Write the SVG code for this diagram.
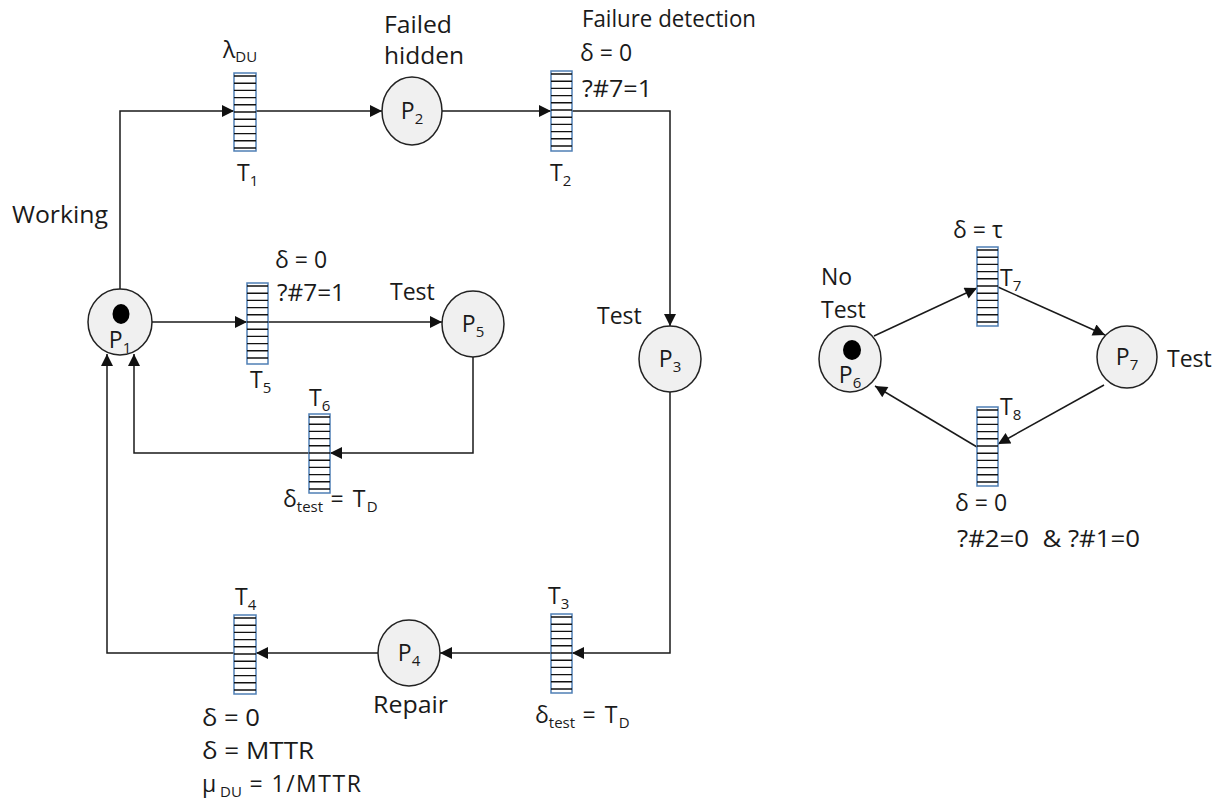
<svg xmlns="http://www.w3.org/2000/svg" width="1225" height="805" viewBox="0 0 1225 805">
<defs>
<marker id="arr" viewBox="0 0 10 10" refX="10" refY="5" markerWidth="15" markerHeight="12" orient="auto" markerUnits="userSpaceOnUse">
<path d="M0,0 L10,5 L0,10 z" fill="#111"/>
</marker>
</defs>
<style>
text{font-family:"Open Sans","Liberation Sans",sans-serif;font-size:23px;fill:#1a1a1a;white-space:pre}
.sub{font-size:15px}
.wide{letter-spacing:1.5px}
.place{fill:#f0f0f0;stroke:#222;stroke-width:1.5}
.tok{fill:#000}
.trans{fill:#fff;stroke:#4f7fb5;stroke-width:1.5}
.st{stroke:#111;stroke-width:1.4}
.conn{fill:none;stroke:#1a1a1a;stroke-width:1.5}
</style>
<rect width="1225" height="805" fill="#fff"/>

<g id="connectors">
<path class="conn" d="M120,289 V111 H234" marker-end="url(#arr)"/>
<path class="conn" d="M256,111 H382" marker-end="url(#arr)"/>
<path class="conn" d="M442,111 H551" marker-end="url(#arr)"/>
<path class="conn" d="M572,111 H670 V326" marker-end="url(#arr)"/>
<path class="conn" d="M670,392 V653 H572" marker-end="url(#arr)"/>
<path class="conn" d="M551,653 H440" marker-end="url(#arr)"/>
<path class="conn" d="M378,653 H256" marker-end="url(#arr)"/>
<path class="conn" d="M234,653 H107 V354" marker-end="url(#arr)"/>
<path class="conn" d="M152,322 H247" marker-end="url(#arr)"/>
<path class="conn" d="M268,322 H442" marker-end="url(#arr)"/>
<path class="conn" d="M473,357 V453 H330" marker-end="url(#arr)"/>
<path class="conn" d="M309,453 H134 V354" marker-end="url(#arr)"/>
<path class="conn" d="M874,336 L977,288" marker-end="url(#arr)"/>
<path class="conn" d="M998,287 L1105,335" marker-end="url(#arr)"/>
<path class="conn" d="M1104,385 L998,444" marker-end="url(#arr)"/>
<path class="conn" d="M977,447 L875,386" marker-end="url(#arr)"/>
</g>

<g id="P1">
<ellipse class="place" cx="120" cy="322" rx="32" ry="33"/>
<ellipse class="tok" cx="121" cy="314" rx="8.5" ry="10"/>
<text x="120" y="348" text-anchor="middle">P<tspan class="sub" dy="5">1</tspan></text>
<text x="12" y="223" textLength="96" lengthAdjust="spacingAndGlyphs">Working</text>
</g>
<g id="P2">
<ellipse class="place" cx="412" cy="111" rx="30" ry="34"/>
<text x="412" y="119" text-anchor="middle">P<tspan class="sub" dy="5">2</tspan></text>
<text x="384" y="33" textLength="68" lengthAdjust="spacingAndGlyphs">Failed</text>
<text x="384" y="64" textLength="80" lengthAdjust="spacingAndGlyphs">hidden</text>
</g>
<g id="P3">
<ellipse class="place" cx="670" cy="359" rx="31" ry="33"/>
<text x="670" y="367" text-anchor="middle">P<tspan class="sub" dy="5">3</tspan></text>
<text x="597" y="324">Test</text>
</g>
<g id="P4">
<ellipse class="place" cx="409" cy="653" rx="31" ry="33"/>
<text x="409" y="661" text-anchor="middle">P<tspan class="sub" dy="5">4</tspan></text>
<text x="373" y="713" textLength="75" lengthAdjust="spacingAndGlyphs">Repair</text>
</g>
<g id="P5">
<ellipse class="place" cx="473" cy="324" rx="31" ry="33"/>
<text x="473" y="332" text-anchor="middle">P<tspan class="sub" dy="5">5</tspan></text>
<text x="390" y="300">Test</text>
</g>
<g id="P6">
<ellipse class="place" cx="850" cy="359" rx="31" ry="33"/>
<ellipse class="tok" cx="852" cy="350" rx="9" ry="10"/>
<text x="850" y="383" text-anchor="middle">P<tspan class="sub" dy="5">6</tspan></text>
<text x="821" y="285">No</text>
<text x="821" y="318">Test</text>
</g>
<g id="P7">
<ellipse class="place" cx="1127" cy="357" rx="30" ry="31"/>
<text x="1127" y="365" text-anchor="middle">P<tspan class="sub" dy="5">7</tspan></text>
<text x="1167" y="367">Test</text>
</g>

<g id="T1">
<rect class="trans" x="234" y="73" width="22" height="78"/>
<g class="st"><path d="M234,76h22M234,83.2h22M234,90.4h22M234,97.6h22M234,104.8h22M234,112h22M234,119.2h22M234,126.4h22M234,133.6h22M234,140.8h22M234,148h22"/></g>
<text x="223" y="58">λ<tspan class="sub" dy="4">DU</tspan></text>
<text x="237" y="181">T<tspan class="sub" dy="5">1</tspan></text>
</g>
<g id="T2">
<rect class="trans" x="551" y="71" width="21" height="80"/>
<g class="st"><path d="M551,74h21M551,81.2h21M551,88.4h21M551,95.6h21M551,102.8h21M551,110h21M551,117.2h21M551,124.4h21M551,131.6h21M551,138.8h21M551,146h21"/></g>
<text x="550" y="181">T<tspan class="sub" dy="5">2</tspan></text>
<text x="582" y="27" textLength="174" lengthAdjust="spacingAndGlyphs">Failure detection</text>
<text x="580" y="61">δ = 0</text>
<text x="582" y="97" textLength="70" lengthAdjust="spacingAndGlyphs">?#7=1</text>
</g>
<g id="T3">
<rect class="trans" x="551" y="614" width="21" height="79"/>
<g class="st"><path d="M551,617h21M551,624.2h21M551,631.4h21M551,638.6h21M551,645.8h21M551,653h21M551,660.2h21M551,667.4h21M551,674.6h21M551,681.8h21M551,689h21"/></g>
<text x="548" y="604">T<tspan class="sub" dy="5">3</tspan></text>
<text x="535" y="723">δ<tspan class="sub" dy="5">test</tspan><tspan class="wide" dy="-5"> = T</tspan><tspan class="sub" dy="5">D</tspan></text>
</g>
<g id="T4">
<rect class="trans" x="234" y="615" width="22" height="79"/>
<g class="st"><path d="M234,618h22M234,625.2h22M234,632.4h22M234,639.6h22M234,646.8h22M234,654h22M234,661.2h22M234,668.4h22M234,675.6h22M234,682.8h22M234,690h22"/></g>
<text x="235" y="605">T<tspan class="sub" dy="5">4</tspan></text>
<text x="202" y="726" textLength="58" lengthAdjust="spacingAndGlyphs">δ = 0</text>
<text x="202" y="759" textLength="112" lengthAdjust="spacingAndGlyphs">δ = MTTR</text>
<text x="202" y="792">μ<tspan class="sub" dy="5"> DU</tspan><tspan class="wide" dy="-5"> = 1/MTTR</tspan></text>
</g>
<g id="T5">
<rect class="trans" x="247" y="283" width="21" height="81"/>
<g class="st"><path d="M247,286h21M247,293.2h21M247,300.4h21M247,307.6h21M247,314.8h21M247,322h21M247,329.2h21M247,336.4h21M247,343.6h21M247,350.8h21M247,358h21"/></g>
<text x="250" y="388">T<tspan class="sub" dy="5">5</tspan></text>
<text x="275" y="268">δ = 0</text>
<text x="277" y="301" textLength="68" lengthAdjust="spacingAndGlyphs">?#7=1</text>
</g>
<g id="T6">
<rect class="trans" x="309" y="414" width="21" height="79"/>
<g class="st"><path d="M309,417h21M309,424.2h21M309,431.4h21M309,438.6h21M309,445.8h21M309,453h21M309,460.2h21M309,467.4h21M309,474.6h21M309,481.8h21M309,489h21"/></g>
<text x="309" y="406">T<tspan class="sub" dy="5">6</tspan></text>
<text x="283" y="507">δ<tspan class="sub" dy="5">test</tspan><tspan class="wide" dy="-5"> = T</tspan><tspan class="sub" dy="5">D</tspan></text>
</g>
<g id="T7">
<rect class="trans" x="977" y="247" width="21" height="79"/>
<g class="st"><path d="M977,250h21M977,257.2h21M977,264.4h21M977,271.6h21M977,278.8h21M977,286h21M977,293.2h21M977,300.4h21M977,307.6h21M977,314.8h21M977,322h21"/></g>
<text x="1000" y="286">T<tspan class="sub" dy="5">7</tspan></text>
<text x="953" y="238">δ = τ</text>
</g>
<g id="T8">
<rect class="trans" x="977" y="407" width="21" height="79"/>
<g class="st"><path d="M977,410h21M977,417.2h21M977,424.4h21M977,431.6h21M977,438.8h21M977,446h21M977,453.2h21M977,460.4h21M977,467.6h21M977,474.8h21M977,482h21"/></g>
<text x="1000" y="415">T<tspan class="sub" dy="5">8</tspan></text>
<text x="955" y="511">δ = 0</text>
<text x="957" y="547" textLength="183" lengthAdjust="spacingAndGlyphs">?#2=0  &amp; ?#1=0</text>
</g>
</svg>
